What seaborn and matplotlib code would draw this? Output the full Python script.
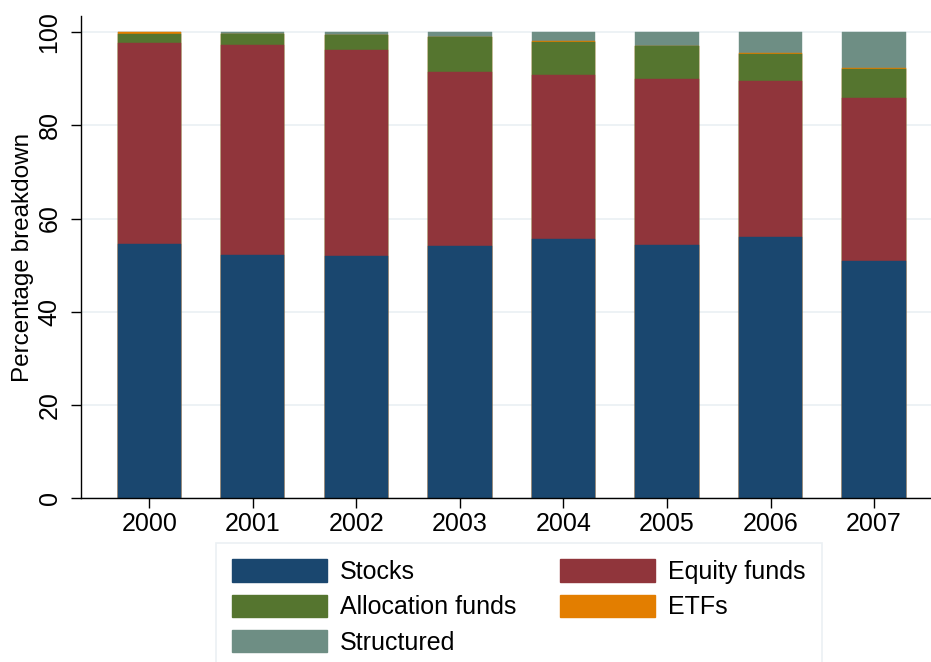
import matplotlib
matplotlib.use("Agg")
import matplotlib.pyplot as plt
import seaborn as sns
import numpy as np
import pandas as pd
from matplotlib.patches import Patch

years = ["2000", "2001", "2002", "2003", "2004", "2005", "2006", "2007"]
stocks = [54.5, 52.1, 51.9, 54.1, 55.6, 54.3, 56.0, 50.9]
equity_funds = [43.2, 45.0, 44.3, 37.4, 35.2, 35.7, 33.5, 35.0]
allocation_funds = [1.9, 2.5, 3.2, 7.3, 7.1, 6.9, 5.7, 6.1]
etfs = [0.4, 0.0, 0.0, 0.2, 0.1, 0.0, 0.2, 0.3]
structured = [0.0, 0.4, 0.6, 1.0, 2.0, 3.1, 4.6, 7.7]

series_names = ["Stocks", "Equity funds", "Allocation funds", "ETFs", "Structured"]
series_vals = [stocks, equity_funds, allocation_funds, etfs, structured]
colors = ["#1a476f", "#90353b", "#55752f", "#e37e00", "#6e8e84"]

sns.set_theme(style="white")
plt.rcParams['font.family'] = ['Liberation Sans', 'DejaVu Sans']
plt.rcParams['text.color'] = 'black'
plt.rcParams['axes.labelcolor'] = 'black'
plt.rcParams['xtick.color'] = 'black'
plt.rcParams['ytick.color'] = 'black'

fig = plt.figure(figsize=(9.31, 6.62), dpi=100)
ax = fig.add_axes([0.087, 0.247, 0.913, 0.7288])

cum = np.cumsum(np.array(series_vals), axis=0)
# draw from the top layer down so lower layers cover upper cumulative bars
for i in range(len(series_names) - 1, -1, -1):
    df = pd.DataFrame({"year": years, "value": cum[i]})
    sns.barplot(data=df, x="year", y="value", color=colors[i], saturation=1,
                width=0.61, ax=ax, edgecolor=colors[i], linewidth=0.3)

ax.set_ylim(0, 103.4)
ax.set_xlim(-0.66, 7.55)
ax.set_yticks([0, 20, 40, 60, 80, 100])
ax.yaxis.grid(True, color="#eaf0f4", linewidth=1.2)
ax.set_axisbelow(True)
for s in ["top", "right"]:
    ax.spines[s].set_visible(False)
for s in ["left", "bottom"]:
    ax.spines[s].set_color("black")
    ax.spines[s].set_linewidth(1.0)
ax.tick_params(axis="both", which="both", direction="out", length=7, width=1,
               color="black", labelcolor="black", labelsize=18, left=True,
               bottom=True)
ax.tick_params(axis="x", pad=3)
ax.tick_params(axis="y", pad=7)
for lab in ax.get_yticklabels():
    lab.set_rotation(90)
    lab.set_va("center")
ax.set_xlabel("")
ax.set_ylabel("Percentage breakdown", fontsize=17.5, color="black")
ax.yaxis.set_label_coords(-0.0553, 0.5)

order = [0, 2, 4, 1, 3]
handles = [Patch(facecolor=colors[i], edgecolor=colors[i]) for i in order]
labels = [series_names[i] for i in order]
leg = fig.legend(handles, labels, loc="upper left", bbox_to_anchor=(0.232, 0.18),
                 ncol=2, fontsize=18, frameon=True, fancybox=False,
                 handlelength=3.8, handleheight=1.0, handletextpad=0.5,
                 columnspacing=1.75, labelspacing=0.42, borderpad=0.66,
                 borderaxespad=0, edgecolor="#e6ecf0")
leg.get_frame().set_linewidth(1.2)
for t in leg.get_texts():
    t.set_color("black")

fig.savefig("out.png", dpi=100, facecolor="white")
